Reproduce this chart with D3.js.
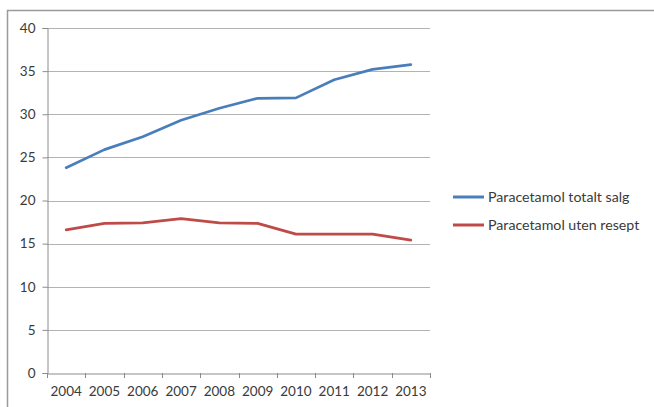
<!DOCTYPE html>
<html>
<head>
<meta charset="utf-8">
<script src="https://cdn.jsdelivr.net/npm/d3@7"></script>
<style>
  body { margin: 0; background: #fff; }
  text { font-family: Lato, "Open Sans", sans-serif; fill: #3a3a3a; }
</style>
</head>
<body>
<div class="chart"></div>
<script>
const years = ["2004", "2005", "2006", "2007", "2008", "2009", "2010", "2011", "2012", "2013"]
const totalt = [23.8, 25.9, 27.4, 29.3, 30.7, 31.85, 31.9, 34.0, 35.2, 35.75]
const utenResept = [16.6, 17.35, 17.4, 17.9, 17.4, 17.35, 16.1, 16.1, 16.1, 15.4]
const yTicks = [0, 5, 10, 15, 20, 25, 30, 35, 40]

const series = [
  {name: "Paracetamol totalt salg", values: totalt, color: "#4a7ebb"},
  {name: "Paracetamol uten resept", values: utenResept, color: "#be4b48"}
]

const width = 654
const height = 407
const plot = {left: 47, right: 430, top: 28, bottom: 373}

const svg = d3.select(".chart").append("svg")
  .attr("width", width)
  .attr("height", height)

// outer frame of the pasted chart
svg.append("rect")
  .attr("x", 7.5).attr("y", 10.5)
  .attr("width", 700).attr("height", 500)
  .attr("fill", "none")
  .attr("stroke", "#9a9a9a")
  .attr("stroke-width", 1.5)

const x = d3.scaleBand()
  .domain(years)
  .range([plot.left, plot.right])

const y = d3.scaleLinear()
  .domain([0, 40])
  .range([plot.bottom, plot.top])

// gridlines
svg.append("g")
  .selectAll("line")
  .data(yTicks.filter(d => d > 0))
  .enter().append("line")
  .attr("x1", plot.left).attr("x2", plot.right)
  .attr("y1", d => Math.round(y(d)) + 0.5)
  .attr("y2", d => Math.round(y(d)) + 0.5)
  .attr("stroke", "#b3b3b3")
  .attr("stroke-width", 1.2)

// y axis
const yAxis = svg.append("g")
  .attr("transform", "translate(" + (plot.left + 0.5) + ",0)")
  .call(d3.axisLeft(y).tickValues(yTicks).tickSize(5).tickPadding(7))
yAxis.select(".domain").attr("stroke", "#8c8c8c")
yAxis.selectAll(".tick line").attr("stroke", "#8c8c8c")
yAxis.selectAll("text").attr("font-size", "13.5px").attr("fill", "#3a3a3a")
  .style("font-family", "Lato, 'Open Sans', sans-serif")

// x axis, tick marks on category boundaries
const xAxis = svg.append("g")
  .attr("transform", "translate(0," + (plot.bottom + 0.5) + ")")
  .call(d3.axisBottom(x).tickSize(0).tickPadding(13))
xAxis.select(".domain").attr("stroke", "#8c8c8c")
xAxis.selectAll("text").attr("font-size", "13.5px").attr("fill", "#3a3a3a")
  .style("font-family", "Lato, 'Open Sans', sans-serif")

svg.append("g")
  .selectAll("line")
  .data(years.concat(["end"]))
  .enter().append("line")
  .attr("x1", (d, i) => Math.round(plot.left + i * x.step()) + 0.5)
  .attr("x2", (d, i) => Math.round(plot.left + i * x.step()) + 0.5)
  .attr("y1", plot.bottom)
  .attr("y2", plot.bottom + 5)
  .attr("stroke", "#8c8c8c")

// lines
const line = d3.line()
  .x((d, i) => x(years[i]) + x.bandwidth() / 2)
  .y(d => y(d))

svg.append("g")
  .selectAll("path")
  .data(series)
  .enter().append("path")
  .attr("d", d => line(d.values))
  .attr("fill", "none")
  .attr("stroke", d => d.color)
  .attr("stroke-width", 2.7)
  .attr("stroke-linejoin", "round")
  .attr("stroke-linecap", "round")

// legend
const legend = svg.append("g")
  .selectAll("g")
  .data(series)
  .enter().append("g")
  .attr("transform", (d, i) => "translate(453," + (197 + i * 28) + ")")

legend.append("line")
  .attr("x1", 0).attr("x2", 31)
  .attr("stroke", d => d.color)
  .attr("stroke-width", 3)

legend.append("text")
  .attr("x", 35)
  .attr("dy", "0.35em")
  .attr("font-size", "14.2px")
  .text(d => d.name)
</script>
</body>
</html>
